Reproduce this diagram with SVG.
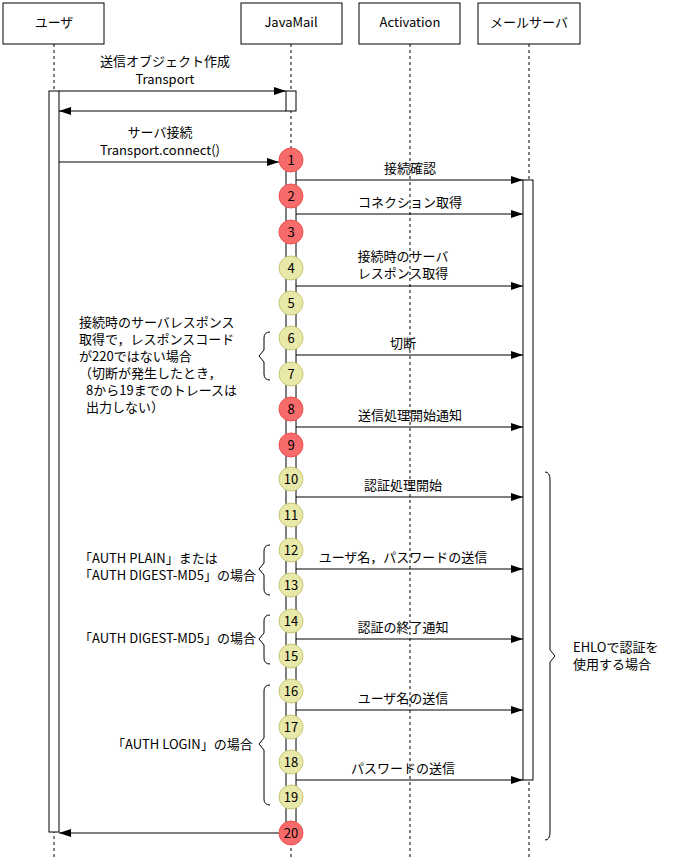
<svg xmlns="http://www.w3.org/2000/svg" width="688" height="863" viewBox="0 0 688 863">
<style>
text{font-family:"Noto Sans CJK JP","DejaVu Sans Mono",monospace;font-size:13px;fill:#000}
.box{fill:#fff;stroke:#000;stroke-width:1}
.life{stroke:#000;stroke-dasharray:3,3;fill:none}
.bar{fill:#fff;stroke:#000}
.msg{stroke:#000;fill:none;marker-end:url(#ah)}
.br{stroke:#000;fill:none}
.r{fill:#f76b6b;stroke:#f05050}
.y{fill:#e8e8a8;stroke:#c8c878}
.m{text-anchor:middle}
</style>
<defs><marker id="ah" markerWidth="12" markerHeight="8" refX="12" refY="4" orient="auto" markerUnits="userSpaceOnUse"><path d="M0,0 L12,4 L0,8 z" fill="#000"/></marker></defs>
<g id="lifelines">
<line class="life" x1="54" y1="44" x2="54" y2="860"/>
<line class="life" x1="291" y1="44" x2="291" y2="860"/>
<line class="life" x1="410" y1="44" x2="410" y2="860"/>
<line class="life" x1="529" y1="44" x2="529" y2="860"/>
</g>
<g id="user"><rect class="box" x="3" y="3" width="101" height="41"/><text class="m" x="54" y="27">ユーザ</text></g>
<g id="javamail"><rect class="box" x="241" y="3" width="101" height="41"/><text class="m" x="291" y="27">JavaMail</text></g>
<g id="activation"><rect class="box" x="359" y="3" width="101" height="41"/><text class="m" x="410" y="27">Activation</text></g>
<g id="mailserver"><rect class="box" x="478" y="3" width="102" height="41"/><text class="m" x="529" y="27">メールサーバ</text></g>
<g id="bars">
<rect class="bar" x="49" y="91" width="10" height="741"/>
<rect class="bar" x="286" y="91" width="10" height="20"/>
<rect class="bar" x="286" y="160" width="10" height="673"/>
<rect class="bar" x="523" y="180" width="10" height="600"/>
</g>
<g id="connectors">
<line class="msg" x1="59" y1="91" x2="286" y2="91"/>
<line class="msg" x1="286" y1="111" x2="59" y2="111"/>
<line class="msg" x1="59" y1="162" x2="279" y2="162"/>
<line class="msg" x1="296" y1="180" x2="523" y2="180"/>
<line class="msg" x1="296" y1="214" x2="523" y2="214"/>
<line class="msg" x1="296" y1="286" x2="523" y2="286"/>
<line class="msg" x1="296" y1="355" x2="523" y2="355"/>
<line class="msg" x1="296" y1="427" x2="523" y2="427"/>
<line class="msg" x1="296" y1="497" x2="523" y2="497"/>
<line class="msg" x1="296" y1="569" x2="523" y2="569"/>
<line class="msg" x1="296" y1="639" x2="523" y2="639"/>
<line class="msg" x1="296" y1="710" x2="523" y2="710"/>
<line class="msg" x1="296" y1="780" x2="523" y2="780"/>
<line class="msg" x1="279" y1="833" x2="59" y2="833"/>
</g>
<g id="msglabels">
<text class="m" x="165" y="66">送信オブジェクト作成</text>
<text class="m" x="165" y="84">Transport</text>
<text class="m" x="160" y="137">サーバ接続</text>
<text class="m" x="160" y="155">Transport.connect()</text>
<text class="m" x="410" y="173">接続確認</text>
<text class="m" x="410" y="207">コネクション取得</text>
<text class="m" x="403" y="261">接続時のサーバ</text>
<text class="m" x="403" y="278">レスポンス取得</text>
<text class="m" x="403" y="348">切断</text>
<text class="m" x="410" y="420">送信処理開始通知</text>
<text class="m" x="403" y="490">認証処理開始</text>
<text class="m" x="403" y="562">ユーザ名，パスワードの送信</text>
<text class="m" x="403" y="632">認証の終了通知</text>
<text class="m" x="403" y="703">ユーザ名の送信</text>
<text class="m" x="403" y="773">パスワードの送信</text>
</g>
<g id="circles" font-size="13">
<circle class="r" cx="291" cy="160" r="12"/><text class="m" x="291" y="165">1</text>
<circle class="r" cx="291" cy="196" r="12"/><text class="m" x="291" y="201">2</text>
<circle class="r" cx="291" cy="232" r="12"/><text class="m" x="291" y="237">3</text>
<circle class="y" cx="291" cy="268" r="12"/><text class="m" x="291" y="273">4</text>
<circle class="y" cx="291" cy="303" r="12"/><text class="m" x="291" y="308">5</text>
<circle class="y" cx="291" cy="338" r="12"/><text class="m" x="291" y="343">6</text>
<circle class="y" cx="291" cy="374" r="12"/><text class="m" x="291" y="379">7</text>
<circle class="r" cx="291" cy="409" r="12"/><text class="m" x="291" y="414">8</text>
<circle class="r" cx="291" cy="445" r="12"/><text class="m" x="291" y="450">9</text>
<circle class="y" cx="291" cy="479" r="12"/><text class="m" x="291" y="484">10</text>
<circle class="y" cx="291" cy="515" r="12"/><text class="m" x="291" y="520">11</text>
<circle class="y" cx="291" cy="550" r="12"/><text class="m" x="291" y="555">12</text>
<circle class="y" cx="291" cy="585" r="12"/><text class="m" x="291" y="590">13</text>
<circle class="y" cx="291" cy="621" r="12"/><text class="m" x="291" y="626">14</text>
<circle class="y" cx="291" cy="656" r="12"/><text class="m" x="291" y="661">15</text>
<circle class="y" cx="291" cy="691" r="12"/><text class="m" x="291" y="696">16</text>
<circle class="y" cx="291" cy="727" r="12"/><text class="m" x="291" y="732">17</text>
<circle class="y" cx="291" cy="762" r="12"/><text class="m" x="291" y="767">18</text>
<circle class="y" cx="291" cy="797" r="12"/><text class="m" x="291" y="802">19</text>
<circle class="r" cx="291" cy="833" r="12"/><text class="m" x="291" y="838">20</text>
</g>
<g id="notes">
<path class="br" d="M270,332 Q264,332 264,338 L264,350 L259,356 L264,362 L264,374 Q264,380 270,380"/>
<text x="79" y="327">接続時のサーバレスポンス</text>
<text x="79" y="344">取得で，レスポンスコード</text>
<text x="79" y="361">が220ではない場合</text>
<text x="79" y="378">（切断が発生したとき，</text>
<text x="86" y="395">8から19までのトレースは</text>
<text x="86" y="412">出力しない）</text>
<path class="br" d="M270,545 Q264,545 264,551 L264,563 L259,569 L264,575 L264,589 Q264,595 270,595"/>
<text x="79" y="563">「AUTH PLAIN」または</text>
<text x="79" y="580">「AUTH DIGEST-MD5」の場合</text>
<path class="br" d="M270,615 Q264,615 264,621 L264,633 L259,639 L264,645 L264,658 Q264,664 270,664"/>
<text x="79" y="643">「AUTH DIGEST-MD5」の場合</text>
<path class="br" d="M270,685 Q264,685 264,691 L264,738 L259,744 L264,750 L264,799 Q264,805 270,805"/>
<text x="112" y="749">「AUTH LOGIN」の場合</text>
<path class="br" d="M545,472 Q550,472 550,480 L550,650 L555,656 L550,662 L550,832 Q550,840 545,840"/>
<text x="573" y="652">EHLOで認証を</text>
<text x="573" y="669">使用する場合</text>
</g>
</svg>
